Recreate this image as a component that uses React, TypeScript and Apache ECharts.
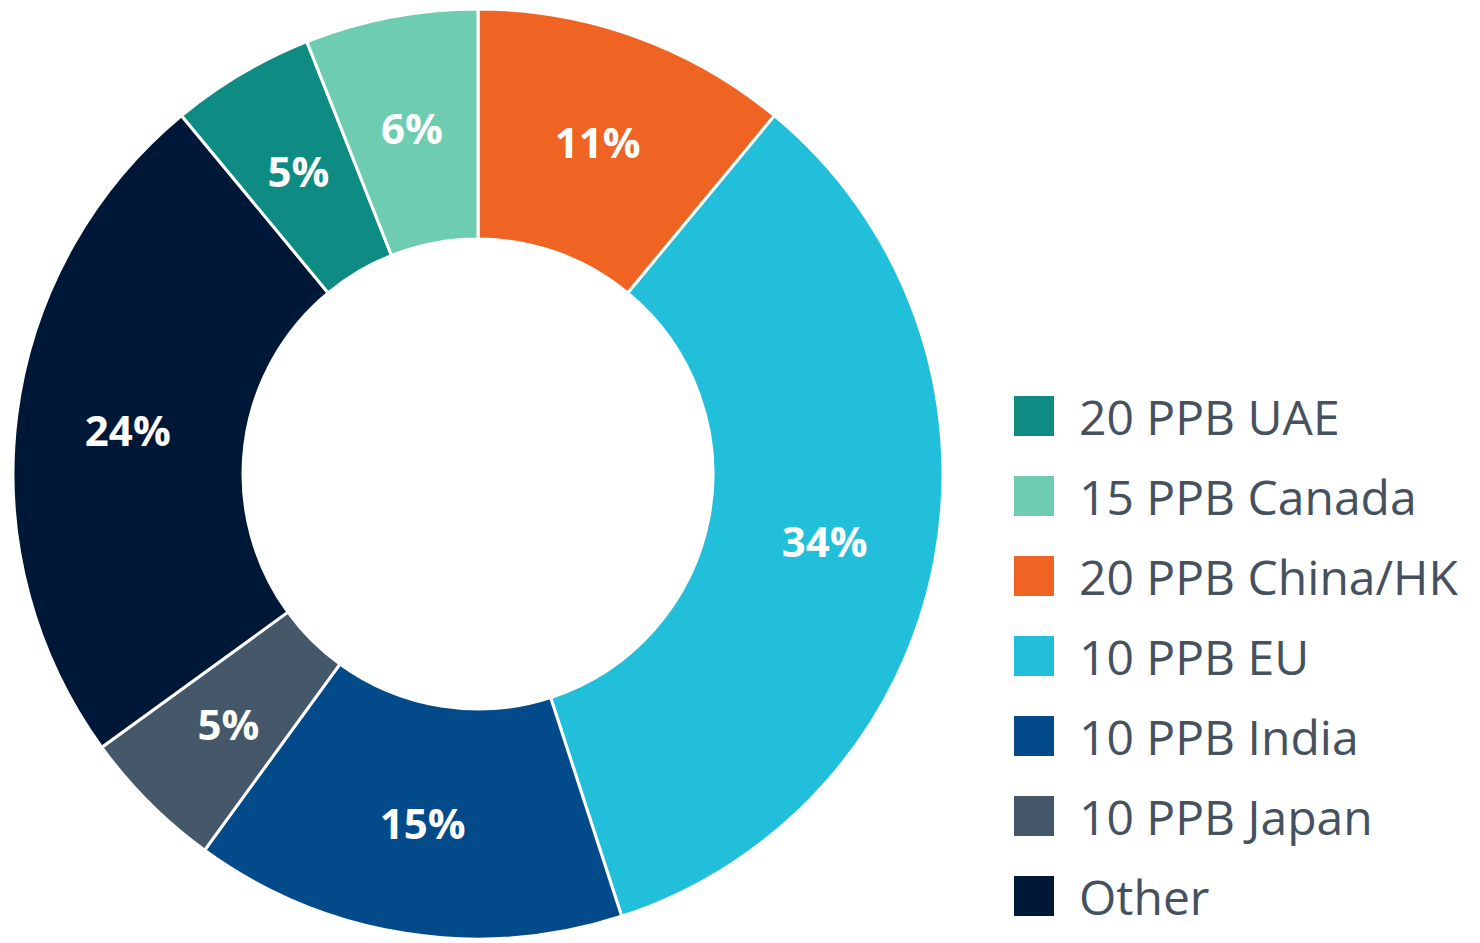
import React, { useEffect, useRef } from "react";
import * as echarts from "echarts";

// Slices in clockwise order starting at 12 o'clock
const sliceNames = [
  "20 PPB China/HK",
  "10 PPB EU",
  "10 PPB India",
  "10 PPB Japan",
  "Other",
  "20 PPB UAE",
  "15 PPB Canada",
];
const sliceValues = [11, 34, 15, 5, 24, 5, 6];
const sliceColors = [
  "#EF6423",
  "#21BFDA",
  "#034A8A",
  "#44586A",
  "#001838",
  "#0E8C84",
  "#6ECDB0",
];
// Legend order as shown
const legendOrder = [
  "20 PPB UAE",
  "15 PPB Canada",
  "20 PPB China/HK",
  "10 PPB EU",
  "10 PPB India",
  "10 PPB Japan",
  "Other",
];

export default function App() {
  const ref = useRef<HTMLDivElement>(null);
  useEffect(() => {
    if (!ref.current) return;
    const chart = echarts.init(ref.current, null, { renderer: "svg" });
    chart.setOption({
      animation: false,
      backgroundColor: "#ffffff",
      legend: {
        orient: "vertical",
        left: 1007,
        top: 386,
        padding: 5,
        itemWidth: 42,
        itemHeight: 42,
        itemGap: 30,
        icon: "rect",
        data: legendOrder,
        textStyle: {
          fontFamily: "Open Sans",
          fontSize: 48,
          lineHeight: 50,
          color: "#45515e",
          padding: [0, 0, 0, 19],
        },
      },
      series: [
        {
          type: "pie",
          center: [478, 474],
          radius: [235, 465],
          startAngle: 90,
          clockwise: true,
          avoidLabelOverlap: false,
          itemStyle: { borderColor: "#ffffff", borderWidth: 3 },
          label: {
            show: true,
            position: "inside",
            formatter: "{c}%",
            color: "#ffffff",
            fontFamily: "Open Sans",
            fontWeight: "bold",
            fontSize: 42,
          },
          labelLine: { show: false },
          emphasis: { disabled: true },
          data: sliceNames.map((n, i) => ({
            name: n,
            value: sliceValues[i],
            itemStyle: { color: sliceColors[i] },
          })),
        },
      ],
    });
    return () => chart.dispose();
  }, []);
  return (
    <div
      ref={ref}
      style={{ position: "absolute", left: 0, top: 0, width: 1480, height: 943 }}
    />
  );
}
